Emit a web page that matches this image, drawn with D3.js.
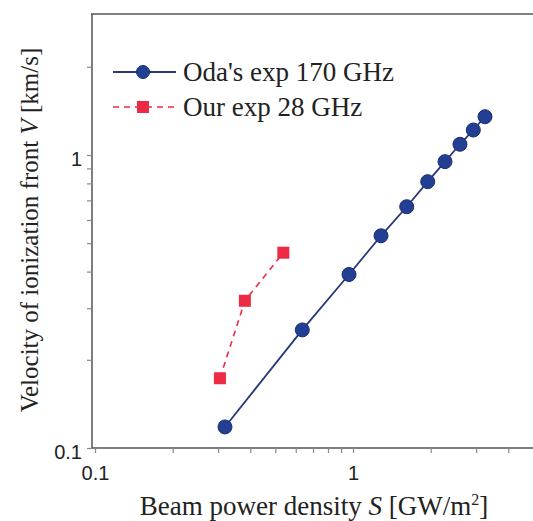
<!DOCTYPE html>
<html><head><meta charset="utf-8">
<script src="https://cdn.jsdelivr.net/npm/d3@7"></script>
<style>body{margin:0;background:#fff} .serif{font-family:"Liberation Serif","Times New Roman",serif} .sans{font-family:"Liberation Sans",Arial,sans-serif}</style>
</head><body>
<svg id="c" width="533" height="521"></svg>
<script>
const odaS = [0.319, 0.636, 0.965, 1.284, 1.615, 1.948, 2.273, 2.598, 2.926, 3.248];
const odaV = [0.118, 0.253, 0.391, 0.530, 0.666, 0.811, 0.949, 1.088, 1.217, 1.351];
const ourS = [0.305, 0.381, 0.537];
const ourV = [0.173, 0.318, 0.464];
const xTickLabels = ["0.1", "1"];
const yTickLabels = ["0.1", "1"];
const seriesNames = ["Oda's exp 170 GHz", "Our exp 28 GHz"];

const svg = d3.select("#c");
const x = d3.scaleLog().domain([0.1, 5]).range([95, 95 + 258 * Math.log10(50)]);
const y = d3.scaleLog().domain([0.1, 3]).range([448, 448 - 293 * Math.log10(30)]);

const axisColor = "#555";
svg.append("line").attr("x1", 91).attr("x2", 533).attr("y1", 14).attr("y2", 14)
  .attr("stroke", axisColor).attr("stroke-width", 1.5);
svg.append("line").attr("x1", 92).attr("x2", 533).attr("y1", 448).attr("y2", 448)
  .attr("stroke", axisColor).attr("stroke-width", 1.5);
svg.append("line").attr("x1", 92).attr("x2", 92).attr("y1", 14).attr("y2", 448)
  .attr("stroke", axisColor).attr("stroke-width", 1.5);

const xMinor = [0.2,0.3,0.4,0.5,0.6,0.7,0.8,0.9,2,3,4];
const xAxis = d3.axisBottom(x).tickValues([0.1, 1, ...xMinor])
  .tickSize(5).tickFormat(d => { const i = [0.1,1].indexOf(d); return i >= 0 ? xTickLabels[i] : ""; });
const gx = svg.append("g").attr("transform", "translate(0,448)").call(xAxis);
gx.select(".domain").remove();
gx.selectAll("line").attr("stroke", "#888").attr("stroke-width", 1.2);
gx.selectAll("text").attr("class", "sans").attr("font-family", null)
  .attr("font-size", 20).attr("fill", "#222").attr("dy", "1.2em");

const yMinor = [0.2,0.3,0.4,0.5,0.6,0.7,0.8,0.9,2];
const yAxis = d3.axisLeft(y).tickValues([0.1, 1, ...yMinor])
  .tickSize(5).tickFormat(d => { const i = [0.1,1].indexOf(d); return i >= 0 ? yTickLabels[i] : ""; });
const gy = svg.append("g").attr("transform", "translate(92,0)").call(yAxis);
gy.select(".domain").remove();
gy.selectAll("line").attr("stroke", "#888").attr("stroke-width", 1.2);
gy.selectAll("text").attr("class", "sans").attr("font-family", null)
  .attr("font-size", 20).attr("fill", "#222").attr("dx", "-0.1em").attr("dy", "0.5em");

svg.append("text").attr("class", "serif").attr("x", 314).attr("y", 515).attr("text-anchor", "middle")
  .attr("font-size", 27).attr("fill", "#222")
  .html('Beam power density <tspan font-style="italic">S</tspan> [GW/m<tspan dy="-10" font-size="16">2</tspan><tspan dy="10">]</tspan>');
svg.append("text").attr("class", "serif").attr("transform", "translate(38,230) rotate(-90)").attr("text-anchor", "middle")
  .attr("font-size", 25).attr("fill", "#222")
  .html('Velocity of ionization front <tspan font-style="italic">V</tspan> [km/s]');

const blue = "#233f94", blueLine = "#2a3878", red = "#ee2b45";
const oda = odaS.map((s, i) => [s, odaV[i]]);
const our = ourS.map((s, i) => [s, ourV[i]]);
const line = d3.line().x(d => x(d[0])).y(d => y(d[1]));

svg.append("path").attr("d", line(oda)).attr("fill", "none").attr("stroke", blueLine).attr("stroke-width", 1.8);
svg.append("path").attr("d", line(our)).attr("fill", "none").attr("stroke", red)
  .attr("stroke-width", 1.6).attr("stroke-dasharray", "6,5");

svg.selectAll(".oda").data(oda).enter().append("circle")
  .attr("cx", d => x(d[0])).attr("cy", d => y(d[1])).attr("r", 7)
  .attr("fill", blue).attr("stroke", "#1a2d6e").attr("stroke-width", 1);
svg.selectAll(".our").data(our).enter().append("rect")
  .attr("x", d => x(d[0]) - 6).attr("y", d => y(d[1]) - 6).attr("width", 12).attr("height", 12)
  .attr("fill", red);

const lg = svg.append("g");
lg.append("line").attr("x1", 113).attr("x2", 176).attr("y1", 72).attr("y2", 72).attr("stroke", blueLine).attr("stroke-width", 1.8);
lg.append("circle").attr("cx", 143).attr("cy", 72).attr("r", 6.5).attr("fill", blue).attr("stroke", "#1a2d6e");
lg.append("line").attr("x1", 113).attr("x2", 176).attr("y1", 107).attr("y2", 107).attr("stroke", red)
  .attr("stroke-width", 1.6).attr("stroke-dasharray", "6,5");
lg.append("rect").attr("x", 137).attr("y", 101).attr("width", 12).attr("height", 12).attr("fill", red);
lg.selectAll(".lt").data(seriesNames).enter().append("text").attr("class", "serif")
  .attr("x", 183).attr("y", (d, i) => 81 + i * 35)
  .attr("font-size", 27).attr("fill", "#222")
  .text(d => d);
</script>
</body></html>
